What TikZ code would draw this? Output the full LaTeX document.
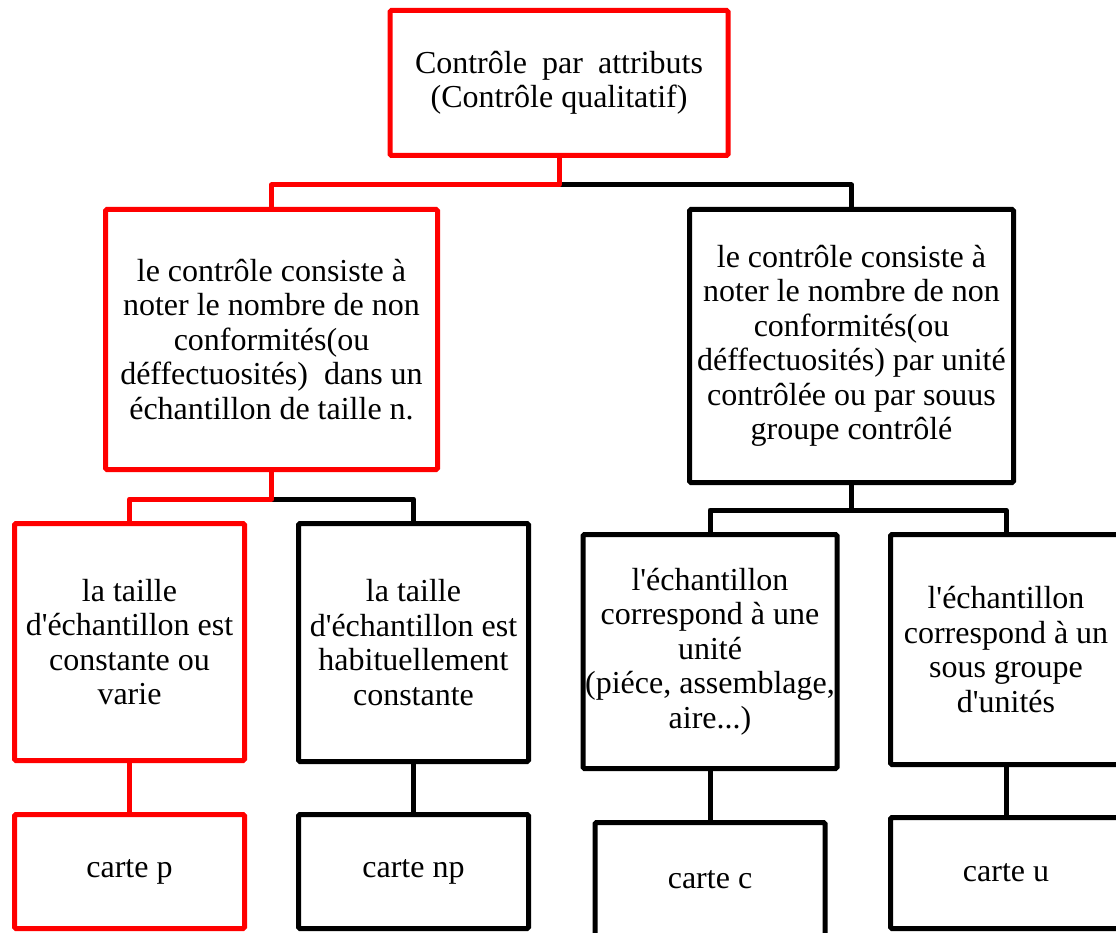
\documentclass[tikz,border=0pt]{standalone}
\usepackage{fontspec}
\setmainfont{Liberation Serif}
\newcommand{\apos}{\textquotesingle}
\tikzset{
  box/.style={draw=black, line width=5pt, rounded corners=1.5pt, align=center,
              inner sep=0pt, fill=white},
  redbox/.style={box, draw=red},
  link/.style={line width=5pt, line join=round, draw=black},
  redlink/.style={link, draw=red},
}
\begin{document}
\begin{tikzpicture}[x=1pt, y=-1pt, font=\fontsize{32}{34.5}\selectfont]
\useasboundingbox (0,0) rectangle (1116,933);

% root
\node[redbox, minimum width=338pt, minimum height=145pt] (top) at (559,83)
  {\makebox[288pt][s]{Contrôle par attributs}\\(Contrôle qualitatif)};

% second level
\node[redbox, minimum width=332pt, minimum height=260pt] (lm) at (271.5,339.5)
  {le contrôle consiste à\\noter le nombre de non\\conformités(ou\\déffectuosités)\ \ dans un\\échantillon de taille n.};
\node[box, minimum width=324pt, minimum height=273pt] (rm) at (851.5,346)
  {le contrôle consiste à\\noter le nombre de non\\conformités(ou\\déffectuosités) par unité\\contrôlée ou par souus\\groupe contrôlé};

% third level
\node[redbox, minimum width=230pt, minimum height=237pt] (b1) at (129.5,642)
  {la taille\\d\apos échantillon est\\constante ou\\varie};
\node[box, minimum width=230pt, minimum height=238pt] (b2) at (413.5,642.5)
  {la taille\\d\apos échantillon est\\habituellement\\constante};
\node[box, minimum width=254pt, minimum height=234pt] (b3) at (710,651.5)
  {l\apos échantillon\\correspond à une\\unité\\(piéce, assemblage,\\aire...)};
\node[box, minimum width=231pt, minimum height=230pt] (b4) at (1006,649.5)
  {l\apos échantillon\\correspond à un\\sous groupe\\d\apos unités};

% charts
\node[redbox, minimum width=230pt, minimum height=114pt] (c1) at (129.5,871.5) {carte p};
\node[box, minimum width=230pt, minimum height=114pt] (c2) at (413.5,871.5) {carte np};
\node[box, minimum width=230pt, minimum height=115pt] (c3) at (710,880) {carte c};
\node[box, minimum width=231pt, minimum height=111pt] (c4) at (1006,873) {carte u};

% connectors: black branches first, the red path on top
\draw[link] (top.south) -- ++(0,27) -| (rm.north);
\draw[link] (lm.south) -- ++(0,27) -| (b2.north);
\draw[link] (rm.south) -- ++(0,25) -| (b3.north);
\draw[link] (rm.south) -- ++(0,25) -| (b4.north);
\draw[link] (b2.south) -- (c2.north);
\draw[link] (b3.south) -- (c3.north);
\draw[link] (b4.south) -- (c4.north);

\draw[redlink] (top.south) -- ++(0,27) -| (lm.north);
\draw[redlink] (lm.south) -- ++(0,27) -| (b1.north);
\draw[redlink] (b1.south) -- (c1.north);
\end{tikzpicture}
\end{document}
